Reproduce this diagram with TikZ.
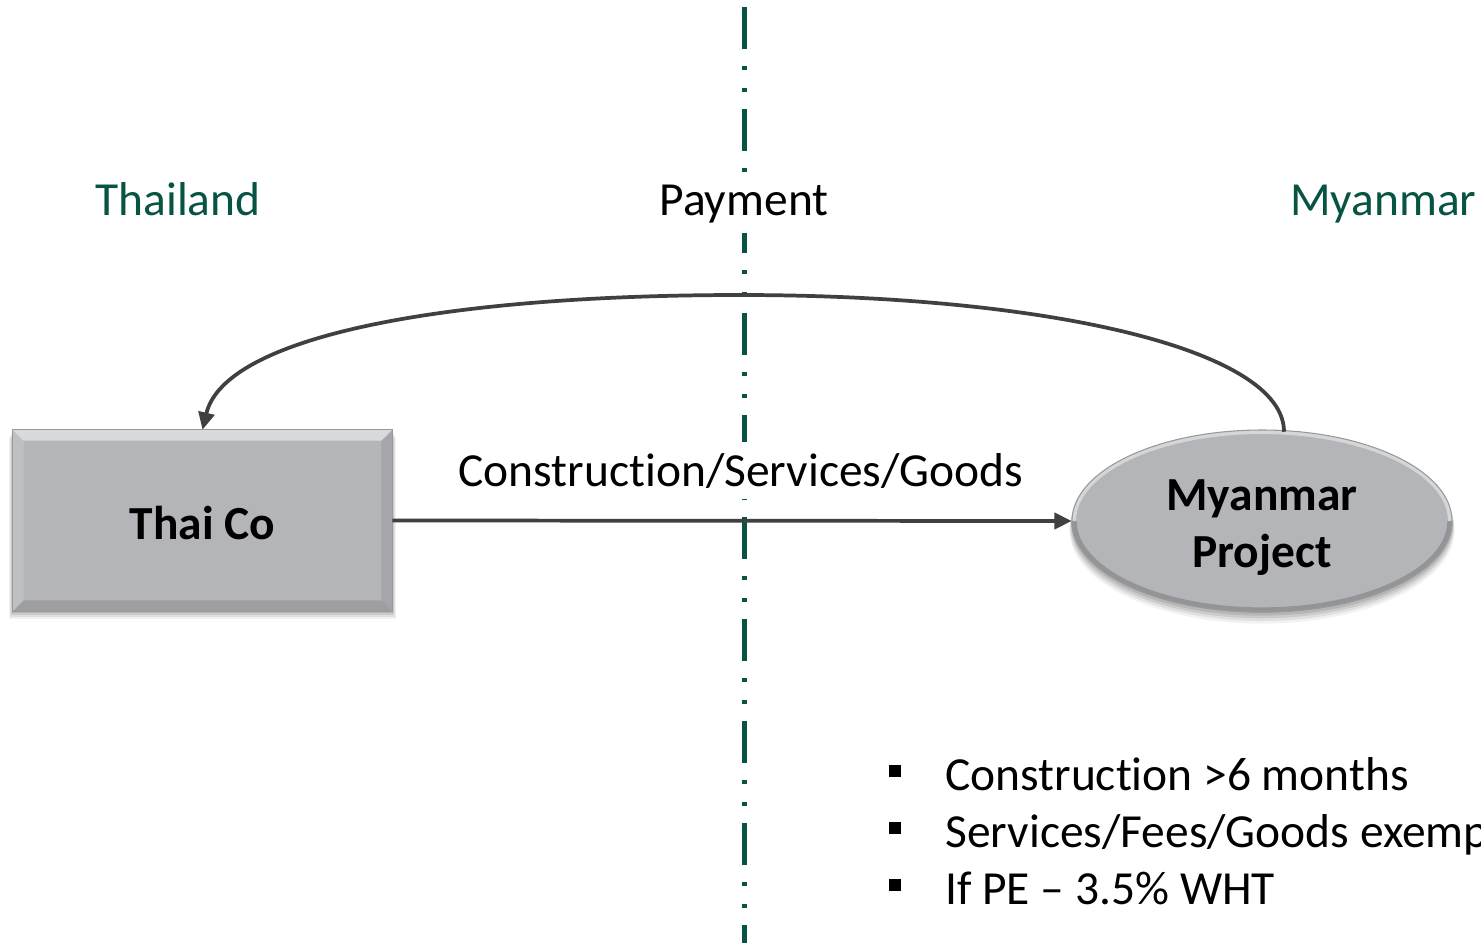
\documentclass[tikz,border=0pt]{standalone}
\usepackage{fontspec}
\setmainfont{Carlito}[Ligatures={TeX,NoCommon}]
\usetikzlibrary{shapes.geometric,arrows.meta,calc}
\definecolor{tealdk}{RGB}{7,84,68}
\definecolor{boxgray}{RGB}{180,181,184}
\definecolor{arrowgray}{RGB}{64,64,64}
\begin{document}
\begin{tikzpicture}[x=0.75pt,y=-0.75pt,
  every node/.style={font=\fontsize{35.6}{42.75}\selectfont, inner sep=0pt},
  country/.style={text=tealdk, anchor=base},
  flowlbl/.style={fill=white, anchor=base, inner xsep=4pt, inner ysep=8pt},
  divider/.style={draw=tealdk, line width=3.75pt,
    dash pattern=on 31.5pt off 12.75pt on 3pt off 13.5pt on 3pt off 12.75pt},
  conn/.style={draw=arrowgray, line width=2.8pt, -{Triangle[length=13pt,width=12pt]}},
  bulletsq/.style={fill=black, minimum size=9.5pt},
  bullettxt/.style={anchor=base west},
  entity/.style={fill=boxgray, font=\bfseries\fontsize{35.6}{42.75}\selectfont, align=center}
]
\useasboundingbox (0,0) rectangle (1481,943);
\clip (0,0) rectangle (1481,943);
\fill[white] (0,0) rectangle (1481,943);

% divider
\coordinate (vtop) at (744,7);
\coordinate (vbot) at (744,943);
\draw[divider] (vtop) -- (vbot);

% country labels
\node[country] (thailand) at (178,215) {Thailand};
\node[country, anchor=base west] (myanmar) at (1290,215) {Myanmar};
\node[flowlbl] (payment) at (744,215) {Payment};

% shadows
\foreach \o/\a in {8/0.05,6/0.07,4/0.09,2/0.1}{
  \fill[black, opacity=\a] (13-\o/2,430+\o) rectangle (392+\o/2,611+\o);
  \fill[black, opacity=\a] (1262,522+\o) ellipse[x radius=190+\o/3, y radius=91+\o/3];
}

% Thai Co box
\node[entity, rectangle, minimum width=284.25pt, minimum height=135.75pt] (thai) at (202.5,520.5) {};
\fill[white, opacity=0.5] (thai.north west) -- (thai.north east) -- ($(thai.north east)+(-11,11)$) -- ($(thai.north west)+(11,11)$) -- cycle;
\fill[white, opacity=0.15] (thai.north west) -- ($(thai.north west)+(11,11)$) -- ($(thai.south west)+(11,-11)$) -- (thai.south west) -- cycle;
\fill[black, opacity=0.08] (thai.north east) -- ($(thai.north east)+(-11,11)$) -- ($(thai.south east)+(-11,-11)$) -- (thai.south east) -- cycle;
\fill[black, opacity=0.12] (thai.south west) -- (thai.south east) -- ($(thai.south east)+(-11,-11)$) -- ($(thai.south west)+(11,-11)$) -- cycle;
\draw[gray!80, line width=0.8pt] (thai.north west) rectangle (thai.south east);
\node[font=\bfseries\fontsize{35.6}{42.75}\selectfont, anchor=base] (thaitxt) at (202.5,539) {Thai Co};

% Myanmar Project ellipse
\node[entity, ellipse, minimum width=285pt, minimum height=136.5pt] (proj) at (1262,521) {};
\draw[black, opacity=0.18, line width=4pt] ($(proj.center)+(188,0)$) arc[start angle=0, end angle=180, x radius=188, y radius=89];
\draw[white, opacity=0.45, line width=3pt] ($(proj.center)+(-188,0)$) arc[start angle=180, end angle=360, x radius=188, y radius=89];
\draw[gray!80, line width=0.8pt] (proj.center) ellipse[x radius=190, y radius=91];
\node[font=\bfseries\fontsize{35.6}{42.75}\selectfont, anchor=base] (projtxt1) at (1262,510) {Myanmar};
\node[font=\bfseries\fontsize{35.6}{42.75}\selectfont, anchor=base] (projtxt2) at (1262,567) {Project};

% flows
\node[flowlbl] (csg) at (741,486) {Construction/Services/Goods};
\draw[conn] (thai.east) -- (proj.west);
\coordinate (payfrom) at ($(proj.north)+(22,2)$);
\draw[conn] (payfrom) .. controls (1284,350) and (1050,295) .. (740,295)
  .. controls (450,295) and (225,335) .. (thai.north);

% bullets
\node[bulletsq] (b1) at (895,771) {};
\node[bulletsq] (b2) at (895,828) {};
\node[bulletsq] (b3) at (895,885) {};
\node[bullettxt] (t1) at (945,790) {Construction >6 months};
\node[bullettxt] (t2) at (945,847) {Services/Fees/Goods exempt};
\node[bullettxt] (t3) at (945,904) {If PE -- 3.5\% WHT};
\end{tikzpicture}
\end{document}
